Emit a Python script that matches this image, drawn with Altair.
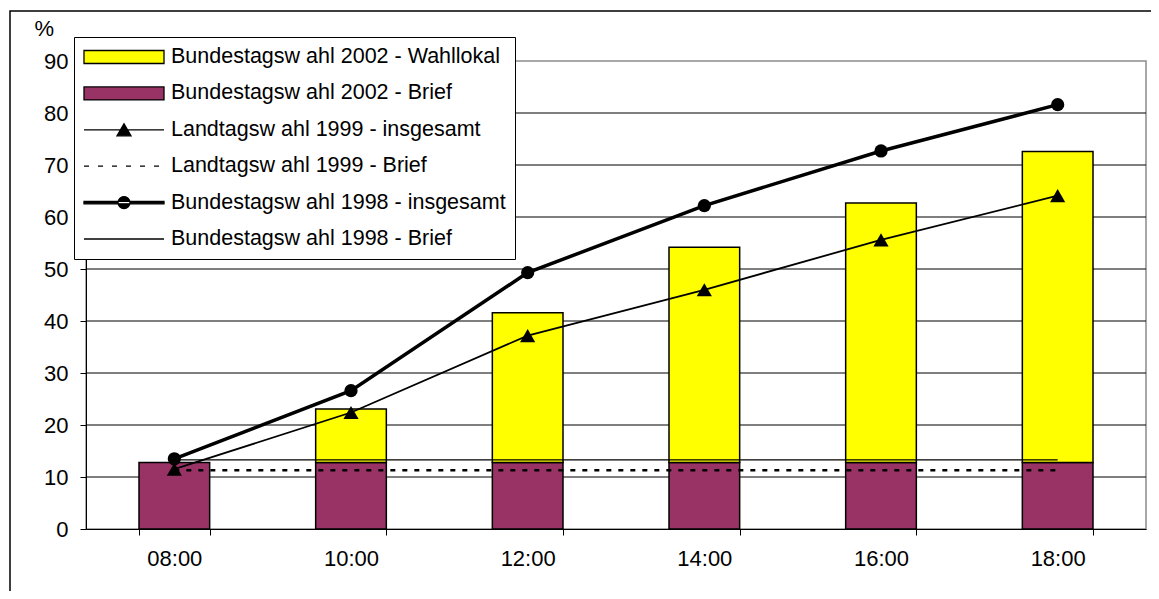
import altair as alt
import pandas as pd

# ---- data ----
times = ["08:00", "10:00", "12:00", "14:00", "16:00", "18:00"]
brief_2002 = [12.8, 12.8, 12.8, 12.8, 12.8, 12.8]          # Bundestagswahl 2002 - Brief
total_2002 = [12.8, 23.1, 41.6, 54.2, 62.7, 72.6]          # top of stacked bar (Brief + Wahllokal)
ltw1999_total = [11.5, 22.4, 37.2, 46.0, 55.6, 64.1]       # Landtagswahl 1999 - insgesamt
ltw1999_brief = [11.3, 11.3, 11.3, 11.3, 11.3, 11.3]       # Landtagswahl 1999 - Brief
btw1998_total = [13.5, 26.6, 49.3, 62.2, 72.7, 81.6]       # Bundestagswahl 1998 - insgesamt
btw1998_brief = [13.3, 13.3, 13.3, 13.3, 13.3, 13.3]       # Bundestagswahl 1998 - Brief
grid_values = [10, 20, 30, 40, 50, 60, 70, 80]

series_names = [
    "Bundestagsw ahl 2002 - Wahllokal",
    "Bundestagsw ahl 2002 - Brief",
    "Landtagsw ahl 1999 - insgesamt",
    "Landtagsw ahl 1999 - Brief",
    "Bundestagsw ahl 1998 - insgesamt",
    "Bundestagsw ahl 1998 - Brief",
]
legend_fills = ["#FFFF00", "#993366", "black", "black", "black", "black"]
legend_paths = [
    "M-1,-0.65H7V0.65H-1Z",
    "M-1,-0.65H7V0.65H-1Z",
    "M-1,0H7M2.3,0.6L3,-0.6L3.7,0.6Z",
    "M-1,0H-0.5M0.4,0H0.9M1.8,0H2.3M3.2,0H3.7M4.6,0H5.1M6,0H6.5",
    "M-1,-0.12H7V0.12H-1ZM2.4,0A0.6,0.6,0,1,0,3.6,0A0.6,0.6,0,1,0,2.4,0Z",
    "M-1,0H7",
]

FONT = "Liberation Sans"
FS = 22

df = pd.DataFrame({
    "time": times,
    "brief": brief_2002,
    "total": total_2002,
    "ltw_t": ltw1999_total,
    "ltw_b": ltw1999_brief,
    "btw_t": btw1998_total,
    "btw_b": btw1998_brief,
})
df["zero"] = 0.0
df_yellow = df[df["total"] > df["brief"]]

x_enc = alt.X(
    "time:N",
    sort=times,
    scale=alt.Scale(paddingInner=0.6, paddingOuter=0.3),
    axis=alt.Axis(
        title=None, tickBand="extent", tickSize=6, tickColor="black",
        domainColor="black", labelPadding=13, labelFontSize=FS, labelFont=FONT,
        labelColor="black", grid=False, labelAngle=0,
    ),
)
y_scale = alt.Scale(domain=[0, 90], nice=False)
y_axis = alt.Axis(
    values=[0, 10, 20, 30, 40, 50, 60, 70, 80, 90], grid=False, tickSize=6,
    tickColor="black", domainColor="black", labelPadding=12, labelFontSize=FS,
    labelFont=FONT, labelColor="black", title="%", titleAngle=0, titleAlign="left",
    titleBaseline="alphabetic", titleX=-52, titleY=-26, titleFontSize=FS,
    titleFont=FONT, titleFontWeight="normal", titleColor="black",
)

base = alt.Chart(df)

frame = alt.Chart(pd.DataFrame({"a": [0]})).mark_rect(
    fill=None, stroke="black", strokeWidth=1.5
).encode(x=alt.value(-76), x2=alt.value(1200), y=alt.value(-50), y2=alt.value(650))

grid = alt.Chart(pd.DataFrame({"g": grid_values})).mark_rule(
    color="black", strokeWidth=1.2
).encode(y=alt.Y("g:Q", scale=y_scale, axis=y_axis))

bar_brief = base.mark_bar(fill="#993366", stroke="black", strokeWidth=1.5).encode(
    x=x_enc, y=alt.Y("zero:Q", scale=y_scale), y2="brief:Q"
)
bar_yellow = alt.Chart(df_yellow).mark_bar(fill="#FFFF00", stroke="black", strokeWidth=1.5).encode(
    x=x_enc, y=alt.Y("brief:Q", scale=y_scale), y2="total:Q"
)

line_btw_b = base.mark_line(color="black", strokeWidth=1.3).encode(
    x=x_enc, y=alt.Y("btw_b:Q", scale=y_scale)
)
line_ltw_b = base.mark_line(color="black", strokeWidth=2.5, strokeDash=[5, 7]).encode(
    x=x_enc, y=alt.Y("ltw_b:Q", scale=y_scale)
)
line_ltw_t = base.mark_line(color="black", strokeWidth=1.8).encode(
    x=x_enc, y=alt.Y("ltw_t:Q", scale=y_scale)
)
pts_ltw_t = base.mark_point(shape="triangle-up", filled=True, fill="black", size=230, opacity=1).encode(
    x=x_enc, y=alt.Y("ltw_t:Q", scale=y_scale)
)
line_btw_t = base.mark_line(color="black", strokeWidth=3.5).encode(
    x=x_enc, y=alt.Y("btw_t:Q", scale=y_scale)
)
pts_btw_t = base.mark_point(shape="circle", filled=True, fill="black", size=175, opacity=1).encode(
    x=x_enc, y=alt.Y("btw_t:Q", scale=y_scale)
)

legend = alt.Legend(
    title=None, orient="none", legendX=-12, legendY=-24,
    fillColor="white", strokeColor="black", padding=9, rowPadding=14.4,
    symbolSize=400, labelOffset=66, labelLimit=600, labelFontSize=21.5,
    labelFont=FONT, labelColor="black",
    symbolStrokeWidth=1.3, symbolOpacity=1,
)
legend_layer = alt.Chart(pd.DataFrame({"series": series_names})).mark_point(
    filled=True, opacity=1, clip=True, stroke="black", strokeWidth=1.3
).encode(
    x=alt.value(-300), y=alt.value(-300),
    color=alt.Color("series:N", scale=alt.Scale(domain=series_names, range=legend_fills), legend=legend),
    shape=alt.Shape("series:N", scale=alt.Scale(domain=series_names, range=legend_paths), legend=legend),
)

chart = alt.layer(
    grid, bar_brief, bar_yellow, line_btw_b, line_ltw_b, line_ltw_t, pts_ltw_t,
    line_btw_t, pts_btw_t, legend_layer, frame,
).properties(
    width=1060, height=468,
    autosize=alt.AutoSizeParams(type="none"),
    padding={"left": 78, "top": 53, "right": 5, "bottom": 62},
    background="white",
).configure_view(stroke="#8c8c8c", strokeWidth=1.5)

chart.save("out.html", embed_options={"renderer": "svg", "actions": False})
